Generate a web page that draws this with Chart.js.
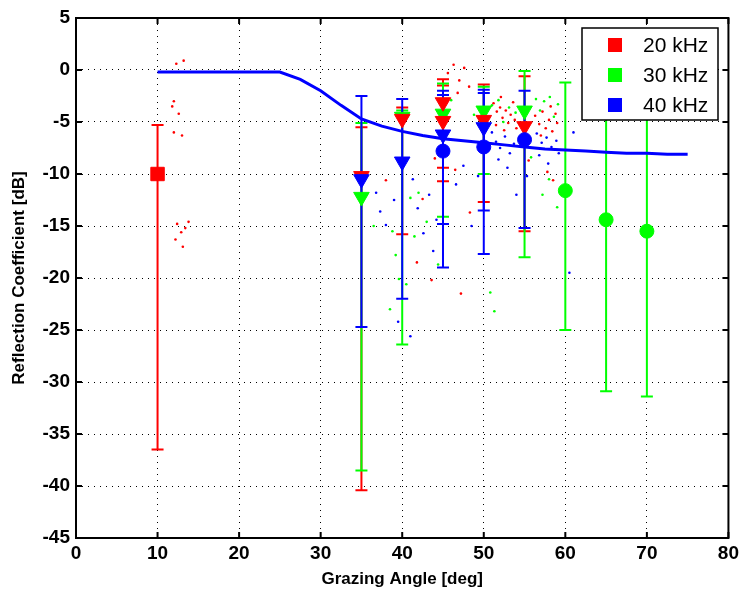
<!DOCTYPE html>
<html>
<head>
<meta charset="utf-8">
<script src="https://cdn.jsdelivr.net/npm/chart.js@4.4.0/dist/chart.umd.min.js"></script>
<style>
  html, body { margin: 0; padding: 0; background: #fff; }
</style>
</head>
<body>
<canvas id="refChart" width="743" height="594"></canvas>
<script>
// legend / axis text
const legendLabels = ['20 kHz', '30 kHz', '40 kHz'];
const xTitle = 'Grazing Angle [deg]';
const yTitle = 'Reflection Coefficient [dB]';

// model curve
const modelAngle = [10, 12.5, 15, 17.5, 20, 22.5, 25, 27.5, 30, 32.5, 35, 37.5, 40, 42.5, 45, 47.5, 50, 52.5, 55, 57.5, 60, 62.5, 65, 67.5, 70, 72.5, 75];
const modelDb = [-0.2, -0.2, -0.2, -0.2, -0.2, -0.2, -0.2, -0.9, -2.0, -3.4, -4.7, -5.4, -5.9, -6.3, -6.6, -6.8, -7.0, -7.2, -7.4, -7.6, -7.7, -7.8, -7.9, -8.0, -8.0, -8.1, -8.1];

// 20 kHz
const redSqAngle = [10];
const redSqDb = [-10.0];
const redSqHi = [-5.3];
const redSqLo = [-36.5];
const redTriAngle = [35, 40, 45, 45, 50, 55];
const redTriDb = [-10.2, -4.7, -3.1, -4.9, -4.8, -5.4];
const redTriHi = [-5.5, -3.6, -0.9, -1.5, -1.4, -0.6];
const redTriLo = [-40.4, -15.8, -9.4, -10.7, -12.7, -15.5];

// 30 kHz
const greenTriAngle = [35, 40, 45, 50, 55];
const greenTriDb = [-12.2, -4.5, -4.2, -3.9, -3.9];
const greenTriHi = [-5.1, -3.9, -1.3, -1.6, -0.1];
const greenTriLo = [-38.5, -26.4, -14.1, -10.0, -18.0];
const greenCirAngle = [60, 65, 70];
const greenCirDb = [-11.6, -14.4, -15.5];
const greenCirHi = [-1.2, -1.0, -1.0];
const greenCirLo = [-25.0, -30.9, -31.4];

// 40 kHz
const blueTriAngle = [35, 40, 45, 50];
const blueTriDb = [-10.5, -8.8, -6.2, -5.5];
const blueTriHi = [-2.5, -2.8, -2.0, -1.9];
const blueTriLo = [-24.7, -22.0, -14.8, -13.5];
const blueCirAngle = [45, 50, 55];
const blueCirDb = [-7.8, -7.4, -6.7];
const blueCirHi = [-2.4, -2.2, -2.0];
const blueCirLo = [-19.0, -17.7, -15.2];

// raw measurement dots
const redDotAngle = [12.3, 13.2, 11.8, 12.6, 12.0, 13.0, 12.4, 12.9, 13.4, 12.2, 13.1, 13.8, 12.0,
  45.6, 46.3, 47.0, 46.8, 47.6, 48.2,
  51.2, 51.6, 52.0, 52.3, 52.7, 53.0, 53.3, 53.8, 51.5, 52.5, 53.6, 52.1, 54.0,
  56.3, 56.8, 57.2, 57.6, 58.0, 58.4, 58.8, 57.0, 58.2, 59.0,
  42.5, 41.8, 43.6, 44.0, 46.5, 48.3, 57.8, 58.5, 55.5, 47.2, 38.0];
const redDotDb = [0.6, 0.9, -3.5, -4.2, -6.0, -6.3, -14.8, -15.6, -15.2, -16.3, -17.0, -14.6, -3.0,
  -0.3, 0.5, -1.0, -2.2, 0.2, -1.6,
  -3.2, -4.0, -3.6, -4.6, -3.9, -5.1, -4.3, -4.8, -5.3, -5.8, -3.1, -2.6, -5.6,
  -4.4, -5.2, -4.0, -5.6, -4.8, -5.9, -4.2, -6.3, -3.5, -5.1,
  -12.4, -18.5, -20.2, -8.5, -9.6, -13.7, -9.8, -10.6, -8.7, -21.5, -10.6];
const greenDotAngle = [38.8, 39.2, 39.6, 38.5, 41.0, 42.0, 43.0, 44.4, 41.5, 51.0, 51.8, 52.4, 53.1, 53.9,
  56.4, 56.9, 57.4, 58.1, 58.6, 59.1, 50.8, 51.3, 58.0, 59.0, 57.2, 46.0, 48.8, 55.8, 36.5, 40.5];
const greenDotDb = [-15.5, -17.8, -20.1, -23.0, -12.3, -11.8, -14.6, -18.7, -16.0, -3.4, -2.9, -5.0, -3.6, -4.1,
  -2.8, -3.9, -3.0, -2.6, -4.5, -3.3, -21.4, -23.2, -10.5, -13.2, -12.0, -2.9, -4.3, -8.4, -15.0, -20.6];
const blueDotAngle = [36.8, 37.3, 38.0, 39.0, 41.3, 41.9, 42.6, 43.3, 43.8, 44.2, 39.5, 41.0, 46.6, 47.5, 48.5, 49.3,
  51.0, 51.5, 52.0, 52.6, 53.2, 53.7, 51.8, 52.9, 56.5, 57.1, 57.7, 58.3, 58.9, 56.8, 57.9, 59.2, 61.0, 55.3, 60.5, 54.0];
const blueDotDb = [-11.8, -13.6, -14.9, -12.5, -10.5, -13.3, -15.7, -12.0, -17.4, -14.4, -24.2, -25.6, -11.0, -9.2, -15.0, -10.2,
  -6.0, -6.9, -7.5, -6.4, -8.0, -7.1, -8.6, -9.4, -6.1, -7.0, -6.5, -7.4, -6.8, -8.2, -9.0, -8.0, -6.0, -10.2, -19.5, -12.0];

const RED = '#ff0000', GREEN = '#00ff00', BLUE = '#0000ff';
const legendColors = [RED, GREEN, BLUE];

function pts(xs, ys) {
    return xs.map((x, i) => ({ x: x, y: ys[i] }));
}

function markerSet(xs, ys, hi, lo, color, style, radius, rotation, barOrder) {
    return {
        data: pts(xs, ys),
        errHi: hi,
        errLo: lo,
        barOrder: barOrder,
        backgroundColor: color,
        borderColor: color,
        pointStyle: style,
        pointRadius: radius,
        pointRotation: rotation,
        pointBorderWidth: 1,
        showLine: false
    };
}

function dotSet(xs, ys, color) {
    return {
        data: pts(xs, ys),
        backgroundColor: color,
        borderColor: color,
        pointRadius: 1.3,
        pointBorderWidth: 0,
        showLine: false
    };
}

// error bars drawn below the markers, red then green then blue
const errorBars = {
    id: 'errorBars',
    beforeDatasetsDraw(chart) {
        const ctx = chart.ctx;
        const xs = chart.scales.x, ys = chart.scales.y;
        const sets = chart.data.datasets.filter(d => d.errLo).sort((a, b) => a.barOrder - b.barOrder);
        ctx.save();
        ctx.lineWidth = 2;
        sets.forEach(ds => {
            ctx.strokeStyle = ds.borderColor;
            ds.data.forEach((p, i) => {
                const px = xs.getPixelForValue(p.x);
                const top = ys.getPixelForValue(ds.errHi[i]);
                const bot = ys.getPixelForValue(ds.errLo[i]);
                ctx.beginPath();
                ctx.moveTo(px, top);
                ctx.lineTo(px, bot);
                ctx.moveTo(px - 6, top);
                ctx.lineTo(px + 6, top);
                ctx.moveTo(px - 6, bot);
                ctx.lineTo(px + 6, bot);
                ctx.stroke();
            });
        });
        ctx.restore();
    }
};

// box around the axes with inward ticks, and the legend
const frameAndLegend = {
    id: 'frameAndLegend',
    afterDraw(chart) {
        const ctx = chart.ctx;
        const a = chart.chartArea;
        const xs = chart.scales.x, ys = chart.scales.y;
        ctx.save();
        ctx.strokeStyle = '#000';
        ctx.lineWidth = 2;
        ctx.strokeRect(a.left, a.top, a.right - a.left, a.bottom - a.top);
        ctx.beginPath();
        xs.ticks.forEach(t => {
            const px = xs.getPixelForValue(t.value);
            ctx.moveTo(px, a.bottom); ctx.lineTo(px, a.bottom - 6);
            ctx.moveTo(px, a.top); ctx.lineTo(px, a.top + 6);
        });
        ys.ticks.forEach(t => {
            const py = ys.getPixelForValue(t.value);
            ctx.moveTo(a.left, py); ctx.lineTo(a.left + 6, py);
            ctx.moveTo(a.right, py); ctx.lineTo(a.right - 6, py);
        });
        ctx.stroke();

        // legend
        const lx = 582, ly = 28, lw = 136, lh = 92;
        ctx.fillStyle = '#fff';
        ctx.fillRect(lx, ly, lw, lh);
        ctx.lineWidth = 1.5;
        ctx.strokeRect(lx, ly, lw, lh);
        ctx.font = '21px "Liberation Sans", Arial, sans-serif';
        ctx.textBaseline = 'middle';
        ctx.textAlign = 'left';
        legendLabels.forEach((lab, i) => {
            const cy = ly + 17 + i * 30;
            ctx.fillStyle = legendColors[i];
            ctx.fillRect(608, cy - 7, 14, 14);
            ctx.fillStyle = '#000';
            ctx.fillText(lab, 643, cy + 1);
        });
        ctx.restore();
    }
};

const tickFont = { family: '"Liberation Sans", Arial, sans-serif', size: 19, weight: 'bold' };
const titleFont = { family: '"Liberation Sans", Arial, sans-serif', size: 17, weight: 'bold' };

new Chart(document.getElementById('refChart').getContext('2d'), {
    type: 'scatter',
    data: {
        datasets: [
            {
                data: pts(modelAngle, modelDb),
                showLine: true,
                borderColor: BLUE,
                backgroundColor: BLUE,
                borderWidth: 3,
                pointRadius: 0,
                tension: 0
            },
            markerSet(blueCirAngle, blueCirDb, blueCirHi, blueCirLo, BLUE, 'circle', 7, 0, 6),
            markerSet(blueTriAngle, blueTriDb, blueTriHi, blueTriLo, BLUE, 'triangle', 9, 180, 5),
            markerSet(redTriAngle, redTriDb, redTriHi, redTriLo, RED, 'triangle', 9, 180, 1),
            markerSet(redSqAngle, redSqDb, redSqHi, redSqLo, RED, 'rect', 9.5, 0, 0),
            markerSet(greenTriAngle, greenTriDb, greenTriHi, greenTriLo, GREEN, 'triangle', 9, 180, 3),
            markerSet(greenCirAngle, greenCirDb, greenCirHi, greenCirLo, GREEN, 'circle', 7, 0, 4),
            dotSet(redDotAngle, redDotDb, RED),
            dotSet(greenDotAngle, greenDotDb, GREEN),
            dotSet(blueDotAngle, blueDotDb, BLUE)
        ]
    },
    options: {
        responsive: false,
        animation: false,
        layout: { padding: { top: 18, right: 8, left: 0, bottom: 0 } },
        plugins: {
            legend: { display: false },
            tooltip: { enabled: false }
        },
        scales: {
            x: {
                type: 'linear',
                min: 0,
                max: 80,
                ticks: { stepSize: 10, color: '#000', font: tickFont, padding: 4 },
                grid: { color: '#000', lineWidth: 1, drawTicks: false },
                border: { display: false, dash: [1, 5] },
                title: { display: true, text: xTitle, color: '#000', font: titleFont, padding: { top: 0, bottom: 4 } },
                afterFit(scale) { scale.height = 56; }
            },
            y: {
                min: -45,
                max: 5,
                ticks: { stepSize: 5, color: '#000', font: tickFont, padding: 6 },
                grid: { color: '#000', lineWidth: 1, drawTicks: false },
                border: { display: false, dash: [1, 5] },
                title: { display: true, text: yTitle, color: '#000', font: titleFont, padding: { top: 9, bottom: 0 } },
                afterFit(scale) { scale.width = 76; }
            }
        }
    },
    plugins: [errorBars, frameAndLegend]
});
</script>
</body>
</html>
